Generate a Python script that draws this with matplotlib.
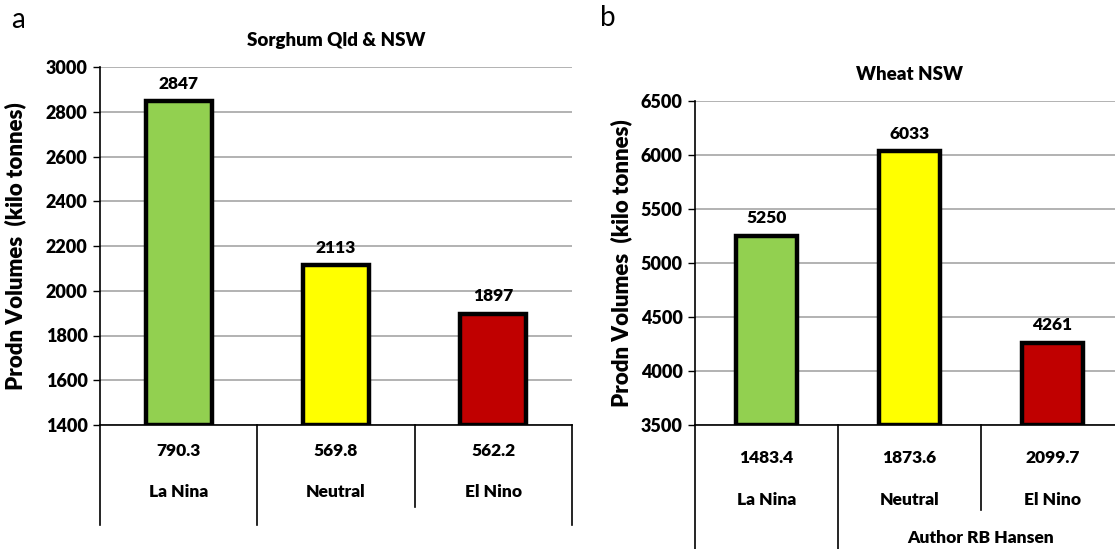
import matplotlib
matplotlib.use("Agg")
import matplotlib.pyplot as plt

plt.rcParams['font.family'] = ['Lato', 'DejaVu Sans']

categories = ["La Nina", "Neutral", "El Nino"]
colors = ["#92d050", "#ffff00", "#c00000"]

sorghum_values = [2847, 2113, 1897]
sorghum_sub = ["790.3", "569.8", "562.2"]
sorghum_ticks = [1400, 1600, 1800, 2000, 2200, 2400, 2600, 2800, 3000]

wheat_values = [5250, 6033, 4261]
wheat_sub = ["1483.4", "1873.6", "2099.7"]
wheat_ticks = [3500, 4000, 4500, 5000, 5500, 6000, 6500]

W, H = 1115, 549
fig = plt.figure(figsize=(W / 100, H / 100), dpi=100)
FW = "heavy"


def px_axes(x0, x1, ytop, ybot):
    return fig.add_axes([x0 / W, (H - ybot) / H, (x1 - x0) / W, (ybot - ytop) / H])


def draw(ax, values, sub, ticks, title, title_y, num_y, name_y, line_bot, mid_bot, labelpad, author=None):
    x = list(range(len(categories)))
    ax.bar(x, [v - ticks[0] for v in values], bottom=ticks[0], width=0.42,
           color=colors, edgecolor="black", linewidth=3.2, zorder=3)
    ax.set_xlim(-0.5, 2.5)
    ax.set_ylim(ticks[0], ticks[-1])
    ax.set_yticks(ticks)
    ax.set_yticklabels([str(t) for t in ticks], fontsize=13, fontweight=FW)
    ax.tick_params(axis="y", length=5, width=1, pad=4, direction="out")
    ax.set_xticks([])
    ax.grid(axis="y", color="#a6a6a6", linewidth=1.2, zorder=0)
    for s in ["top", "right"]:
        ax.spines[s].set_visible(False)
    ax.spines["left"].set_linewidth(1.2)
    ax.spines["bottom"].set_linewidth(1.2)
    ax.set_ylabel("Prodn Volumes  (kilo tonnes)", fontsize=16, fontweight=FW, labelpad=labelpad)
    ax.set_title(title, fontsize=13.5, fontweight=FW, y=title_y)
    for xi, v in zip(x, values):
        ax.annotate(str(v), (xi, v), xytext=(0, 7), textcoords="offset points",
                    ha="center", va="bottom", fontsize=12.5, fontweight=FW)
    tr = ax.get_xaxis_transform()
    for xb, yb in zip([-0.5, 0.5, 1.5, 2.5], [line_bot, line_bot, mid_bot, line_bot]):
        ax.plot([xb, xb], [0, yb], transform=tr, color="black", linewidth=1.2, clip_on=False)
    for xi, s, c in zip(x, sub, categories):
        ax.text(xi, num_y, s, transform=tr, ha="center", va="center", fontsize=12.5, fontweight=FW)
        ax.text(xi, name_y, c, transform=tr, ha="center", va="center", fontsize=12.5, fontweight=FW)
    if author:
        ax.text(1.5, author, "Author RB Hansen", transform=tr, ha="center", va="center",
                fontsize=12.5, fontweight=FW)


ax1 = px_axes(100, 572, 67, 425)
draw(ax1, sorghum_values, sorghum_sub, sorghum_ticks, "Sorghum Qld & NSW", 1.035,
     -0.073, -0.187, -0.279, -0.229, labelpad=14)

ax2 = px_axes(695, 1124, 101, 425)
draw(ax2, wheat_values, wheat_sub, wheat_ticks, "Wheat NSW", 1.04,
     -0.102, -0.231, -0.40, -0.262, labelpad=6, author=-0.349)

fig.text(18 / W, 1 - 20 / H, "a", fontsize=20, ha="center", va="center")
fig.text(608 / W, 1 - 18 / H, "b", fontsize=20, ha="center", va="center")

fig.savefig("out.png", dpi=100)
